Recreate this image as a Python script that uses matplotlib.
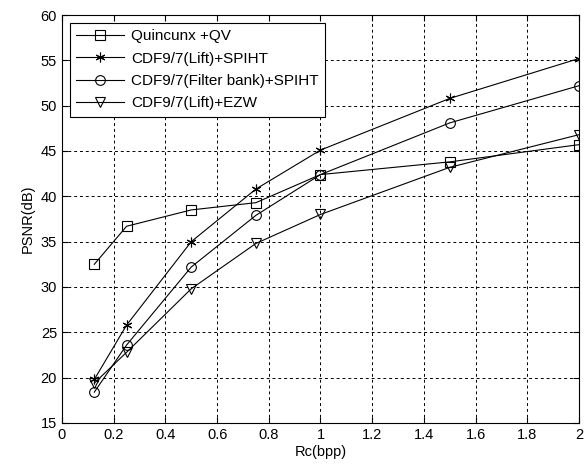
import matplotlib
matplotlib.use("Agg")
import matplotlib.pyplot as plt

plt.rcParams['font.family'] = ['Liberation Sans', 'DejaVu Sans']

# ---------------- DATA ----------------
rc = [0.125, 0.25, 0.5, 0.75, 1.0, 1.5, 2.0]
quincunx_qv = [32.5, 36.7, 38.5, 39.3, 42.4, 43.8, 45.7]
lift_spiht = [19.8, 25.8, 35.0, 40.8, 45.1, 50.8, 55.2]
fbank_spiht = [18.4, 23.6, 32.2, 37.9, 42.4, 48.1, 52.2]
lift_ezw = [19.4, 22.8, 29.8, 34.8, 38.0, 43.2, 46.8]

series_labels = ['Quincunx +QV', 'CDF9/7(Lift)+SPIHT',
                 'CDF9/7(Filter bank)+SPIHT', 'CDF9/7(Lift)+EZW']
series_markers = ['s', (6, 2, 0), 'o', 'v']
x_ticks = [0, 0.2, 0.4, 0.6, 0.8, 1, 1.2, 1.4, 1.6, 1.8, 2]
x_ticklabels = ['0', '0.2', '0.4', '0.6', '0.8', '1', '1.2', '1.4', '1.6', '1.8', '2']
y_ticks = [15, 20, 25, 30, 35, 40, 45, 50, 55, 60]
# --------------------------------------

fig = plt.figure(figsize=(5.88, 4.66), dpi=100)
ax = fig.add_axes([0.1054, 0.0923, 0.8793, 0.8755])

for ys, lab, mk in zip([quincunx_qv, lift_spiht, fbank_spiht, lift_ezw],
                       series_labels, series_markers):
    ax.plot(rc, ys, color='black', linewidth=0.8, marker=mk,
            markersize=7, markerfacecolor='none',
            markeredgecolor='black', markeredgewidth=0.8, label=lab)

ax.set_xlim(0, 2)
ax.set_ylim(15, 60)
ax.set_xticks(x_ticks)
ax.set_xticklabels(x_ticklabels)
ax.set_yticks(y_ticks)
ax.grid(True, color='black', linestyle=(0, (3, 3)), linewidth=0.7)
ax.tick_params(direction='in', top=True, right=True, labelsize=10.5, length=4)
for sp in ax.spines.values():
    sp.set_linewidth(0.8)

ax.set_xlabel('Rc(bpp)', fontsize=10.5, labelpad=2)
ax.set_ylabel('PSNR(dB)', fontsize=10.5, labelpad=4)

leg = ax.legend(loc='upper left', bbox_to_anchor=(0.016, 0.98), fontsize=11,
                fancybox=False, framealpha=1, edgecolor='black',
                handlelength=3.1, borderpad=0.4, labelspacing=0.55,
                handletextpad=0.5, borderaxespad=0.0)
leg.get_frame().set_linewidth(0.8)

fig.savefig('out.png', dpi=100, facecolor='white')
